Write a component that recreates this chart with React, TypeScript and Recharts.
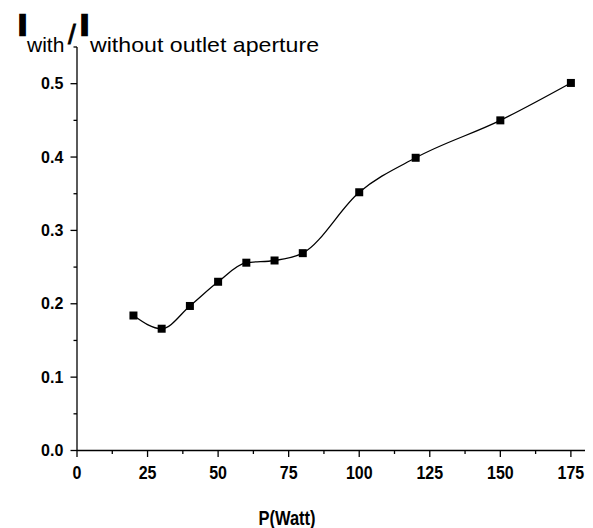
import React from "react";
import { LineChart, Line, XAxis, YAxis } from "recharts";

const powerWatt = [20, 30, 40, 50, 60, 70, 80, 100, 120, 150, 175];
const intensityRatio = [0.184, 0.166, 0.197, 0.23, 0.256, 0.259, 0.269, 0.352, 0.399, 0.45, 0.501];
const xTicks = [0, 12.5, 25, 37.5, 50, 62.5, 75, 87.5, 100, 112.5, 125, 137.5, 150, 162.5, 175];
const yTicks = [0, 0.05, 0.1, 0.15, 0.2, 0.25, 0.3, 0.35, 0.4, 0.45, 0.5, 0.55];

const data = powerWatt.map((p, i) => ({ x: p, y: intensityRatio[i] }));

const FONT = "'Liberation Sans', Arial, Helvetica, sans-serif";

const XTick = (props: any) => {
  const { x, y, payload } = props;
  const v = payload.value;
  const major = v % 25 === 0;
  return (
    <g>
      <line x1={x} x2={x} y1={y} y2={y + (major ? 6.5 : 3.5)} stroke="#000" strokeWidth={1.3} />
      {major && (
        <text
          transform={`translate(${x},${y + 28.5}) scale(1,1.2)`}
          textAnchor="middle"
          fontSize={16}
          fontWeight="bold"
          fontFamily={FONT}
          fill="#000"
        >
          {v}
        </text>
      )}
    </g>
  );
};

const YTick = (props: any) => {
  const { x, y, payload } = props;
  const v = payload.value;
  const major = Math.abs(v * 10 - Math.round(v * 10)) < 1e-6;
  return (
    <g>
      <line x1={x} x2={x - (major ? 6.5 : 3.5)} y1={y} y2={y} stroke="#000" strokeWidth={1.3} />
      {major && (
        <text x={x - 13.7} y={y + 5.5} textAnchor="end" fontSize={16} fontWeight="bold" fontFamily={FONT} fill="#000">
          {v.toFixed(1)}
        </text>
      )}
    </g>
  );
};

const SquareDot = (props: any) => {
  const { cx, cy, index } = props;
  if (cx == null || cy == null) return <g key={index} />;
  return <rect key={index} x={cx - 4} y={cy - 4} width={8} height={8} fill="#000" />;
};

export default function App() {
  return (
    <div style={{ position: "absolute", left: 0, top: 0, width: 593, height: 528, background: "#fff" }}>
      <LineChart width={593} height={528} data={data} margin={{ top: 47, right: 8, left: 0, bottom: 37.5 }}>
        <XAxis
          type="number"
          dataKey="x"
          domain={[0, 180]}
          ticks={xTicks}
          interval={0}
          tickSize={0}
          tickMargin={0}
          tickLine={false}
          axisLine={{ stroke: "#000", strokeWidth: 1.3 }}
          tick={<XTick />}
          height={40}
        />
        <YAxis
          type="number"
          domain={[0, 0.55]}
          ticks={yTicks}
          interval={0}
          tickSize={0}
          tickMargin={0}
          tickLine={false}
          axisLine={{ stroke: "#000", strokeWidth: 1.3 }}
          tick={<YTick />}
          width={77}
        />
        <Line
          type="monotone"
          dataKey="y"
          stroke="#000"
          strokeWidth={1.3}
          dot={<SquareDot />}
          activeDot={false}
          isAnimationActive={false}
        />
      </LineChart>
      <svg width={593} height={528} style={{ position: "absolute", left: 0, top: 0, pointerEvents: "none" }}>
        <text x={18.5} y={35} fontSize={29} fontWeight="bold" fontFamily={FONT} fill="#000" stroke="#000" strokeWidth={2.5}>I</text>
        <text x={27} y={52} fontSize={21} fontFamily={FONT} fill="#000">with</text>
        <text x={68} y={44} fontSize={28} fontFamily={FONT} fill="#000" stroke="#000" strokeWidth={0.8}>/</text>
        <text x={80.5} y={35} fontSize={29} fontWeight="bold" fontFamily={FONT} fill="#000" stroke="#000" strokeWidth={2.5}>I</text>
        <text x={90} y={52} fontSize={21} fontFamily={FONT} fill="#000" textLength={229} lengthAdjust="spacingAndGlyphs">
          without outlet aperture
        </text>
        <text
          transform="translate(287,525) scale(1,1.2)"
          textAnchor="middle"
          fontSize={16.5}
          fontWeight="bold"
          fontFamily={FONT}
          fill="#000"
        >
          P(Watt)
        </text>
      </svg>
    </div>
  );
}
